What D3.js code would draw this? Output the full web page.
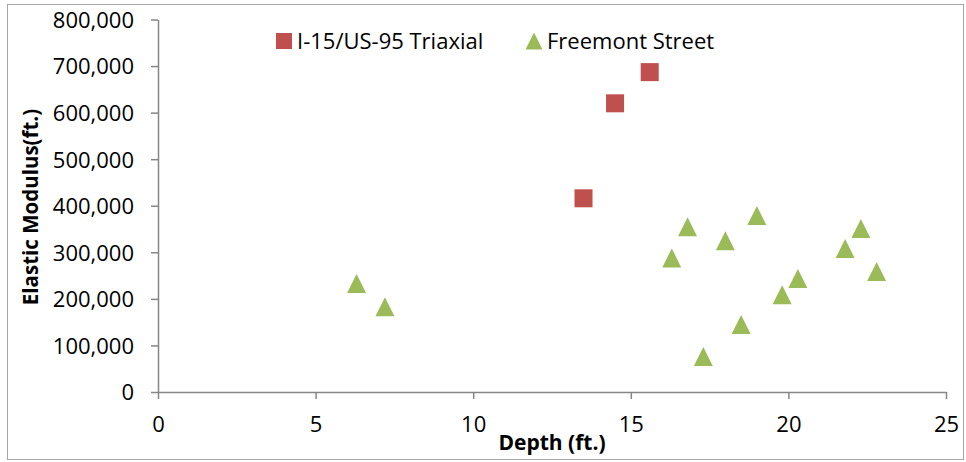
<!DOCTYPE html>
<html><head><meta charset="utf-8">
<script src="https://cdn.jsdelivr.net/npm/d3@7"></script>
<style>body{margin:0;background:#fff}svg{display:block}text{font-family:"Open Sans",sans-serif}</style>
</head><body>
<script>
const triaxialDepth = [13.5, 14.5, 15.6];
const triaxialModulus = [416000, 620000, 687000];
const freemontDepth = [6.3, 7.2, 16.3, 16.8, 17.3, 18.0, 18.5, 19.0, 19.8, 20.3, 21.8, 22.3, 22.8];
const freemontModulus = [233000, 183000, 288000, 355000, 76000, 325000, 145000, 379000, 209000, 244000, 308000, 351000, 259000];
const xTicks = [0, 5, 10, 15, 20, 25];
const yTicks = [0, 100000, 200000, 300000, 400000, 500000, 600000, 700000, 800000];
const seriesNames = ["I-15/US-95 Triaxial", "Freemont Street"];
const xTitle = "Depth (ft.)";
const yTitle = "Elastic Modulus(ft.)";

const W = 966, H = 462;
const svg = d3.select("body").append("svg").attr("width", W).attr("height", H);
svg.append("rect").attr("x", 7.5).attr("y", 4.5).attr("width", 956).attr("height", 455)
  .attr("fill", "none").attr("stroke", "#a6a6a6").attr("stroke-width", 1);

const x = d3.scaleLinear().domain([0, 25]).range([158, 946]);
const y = d3.scaleLinear().domain([0, 800000]).range([392, 19.5]);
const axisColor = "#868686";
const fmt = d3.format(",");

const gx = svg.append("g").attr("transform", "translate(0,392)")
  .call(d3.axisBottom(x).tickValues(xTicks).tickSize(7).tickSizeOuter(0));
const gy = svg.append("g").attr("transform", "translate(158,0)")
  .call(d3.axisLeft(y).tickValues(yTicks).tickFormat(fmt).tickSize(7).tickSizeOuter(0));
[gx, gy].forEach(g => {
  g.select(".domain").attr("stroke", axisColor).attr("stroke-width", 1.5);
  g.selectAll(".tick line").attr("stroke", axisColor).attr("stroke-width", 1.5);
  g.selectAll(".tick text").attr("fill", "#000").style("font-size", "22px").style("font-family", "'Open Sans',sans-serif");
});
gy.selectAll(".tick text").attr("x", -24).attr("dy", "0.36em");
gx.selectAll(".tick text").attr("y", 40).attr("dy", 0);

svg.append("text").attr("x", 552).attr("y", 450).attr("text-anchor", "middle")
  .style("font-weight", "bold").style("font-size", "21px").text(xTitle);
svg.append("text").attr("transform", "translate(38,207) rotate(-90)").attr("text-anchor", "middle")
  .style("font-weight", "bold").style("font-size", "20.5px").text(yTitle);

const red = "#C0504D", green = "#9BBB59";
const sq = 18;
svg.append("g").selectAll("rect").data(triaxialDepth).join("rect")
  .attr("x", (d) => x(d) - sq / 2).attr("y", (d, i) => y(triaxialModulus[i]) - sq / 2)
  .attr("width", sq).attr("height", sq).attr("fill", red);

function tri(cx, cy, s) {
  return `M${cx},${cy - s / 2}L${cx + s / 2},${cy + s / 2}L${cx - s / 2},${cy + s / 2}Z`;
}
svg.append("g").selectAll("path").data(freemontDepth).join("path")
  .attr("d", (d, i) => tri(x(d), y(freemontModulus[i]), 19)).attr("fill", green);

// legend
svg.append("rect").attr("x", 276).attr("y", 33).attr("width", 16).attr("height", 16).attr("fill", red);
svg.append("text").attr("x", 297).attr("y", 49).style("font-size", "22px").text(seriesNames[0]);
svg.append("path").attr("d", tri(534, 41, 17)).attr("fill", green);
svg.append("text").attr("x", 547).attr("y", 49).style("font-size", "22px").text(seriesNames[1]);
</script>
</body></html>
